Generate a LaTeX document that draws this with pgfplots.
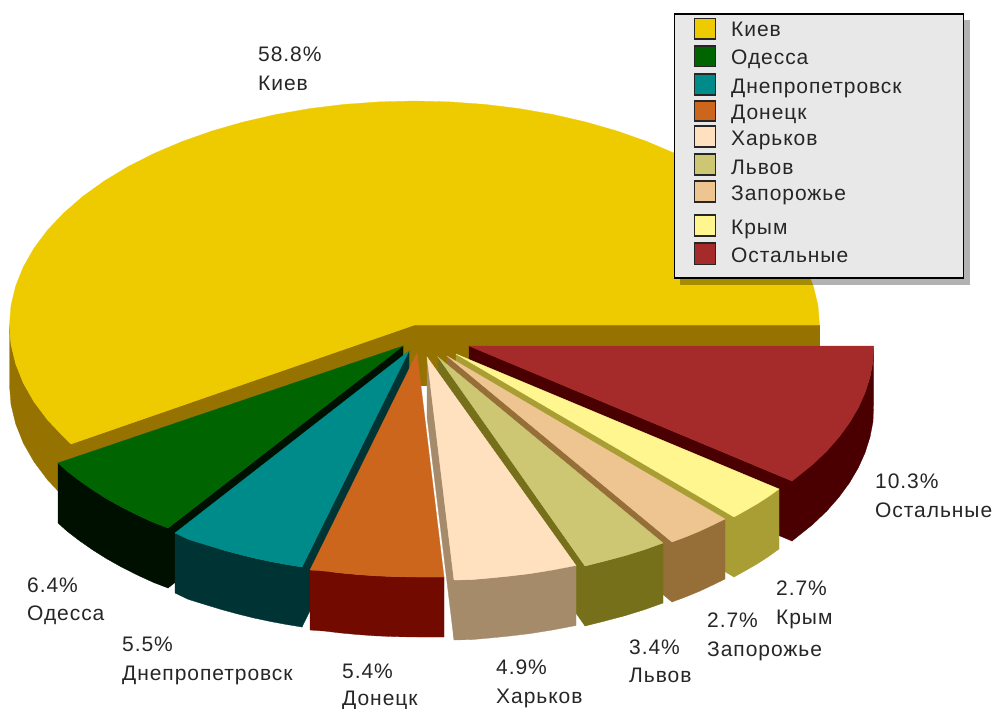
\documentclass[border=0pt]{standalone}
\usepackage{fontspec}
\setmainfont[LetterSpace=4.5]{Liberation Sans}
\usepackage{pgfplots}
\pgfplotsset{compat=1.18}

\definecolor{kievT}{HTML}{EECB00}\definecolor{kievS}{HTML}{967300}
\definecolor{odesT}{HTML}{006400}\definecolor{odesS}{HTML}{001000}
\definecolor{dnepT}{HTML}{008B8B}\definecolor{dnepS}{HTML}{003333}
\definecolor{doneT}{HTML}{CD661D}\definecolor{doneS}{HTML}{730A00}
\definecolor{kharT}{HTML}{FFE1BF}\definecolor{kharS}{HTML}{A68B6B}
\definecolor{lvovT}{HTML}{CDC673}\definecolor{lvovS}{HTML}{757019}
\definecolor{zapoT}{HTML}{EEC591}\definecolor{zapoS}{HTML}{966E38}
\definecolor{krymT}{HTML}{FFF68F}\definecolor{krymS}{HTML}{A89E33}
\definecolor{restT}{HTML}{A52A2A}\definecolor{restS}{HTML}{4A0000}

\newcommand{\poly}[2]{\addplot[fill=#1,draw=#1,line width=0.3pt] coordinates {#2} --cycle;}
\newcommand{\lab}[3]{\node[anchor=base west,inner sep=0pt,text=black!85] at (axis cs:#1,#2) {#3};}
\newcommand{\swatch}[3]{\addplot[fill=#1,draw=black!85,line width=1.3pt] coordinates {(694.5,#2) (715.5,#2) (715.5,#3) (694.5,#3)} --cycle;}

\begin{document}
\begin{tikzpicture}
\begin{axis}[
  width=994pt, height=709pt, scale only axis,
  xmin=0, xmax=994, ymin=0, ymax=709,
  y dir=reverse, hide axis,
  font=\fontsize{21}{25}\selectfont,
]
% keeps the whole frame in the bounding box
\addplot[draw=none] coordinates {(0,0) (994,709)};
% Kiev, sides then top
\poly{kievS}{(414,325) (819.5,325) (819.5,385) (414,385)}
\poly{kievS}{(414,325) (71,444) (71,504) (414,385)}
\poly{kievS}{(9.5,325) (11,344.5) (15.7,363.9) (23.3,383) (33.9,401.6) (47.4,419.7) (63.8,437) (71,444) (71,504) (63.8,497) (47.4,479.7) (33.9,461.6) (23.3,443) (15.7,423.9) (11,404.5) (9.5,385)}
\poly{kievT}{(414.5,325) (819.5,325) (818,305.5) (813.3,286.1) (805.7,267) (795.1,248.4) (781.6,230.3) (765.2,213) (746.3,196.5) (724.7,181) (700.9,166.6) (674.8,153.4) (646.8,141.5) (617,131) (585.7,122) (553,114.5) (519.3,108.6) (484.8,104.4) (449.8,101.9) (414.5,101) (379.2,101.9) (344.2,104.4) (309.7,108.6) (276,114.5) (243.3,122) (212,131) (182.2,141.5) (154.2,153.4) (128.1,166.6) (104.3,181) (82.7,196.5) (63.8,213) (47.4,230.3) (33.9,248.4) (23.3,267) (15.7,286.1) (11,305.5) (9.5,325) (11,344.5) (15.7,363.9) (23.3,383) (33.9,401.6) (47.4,419.7) (63.8,437) (71,444)}
% Odessa
\poly{odesS}{(403,346) (168,528) (168,588) (403,406)}
\poly{odesS}{(58,463) (67.2,471.3) (79.6,480.8) (92.8,490) (106.8,498.8) (121.6,507.1) (137.3,515) (153.6,522.5) (168,528) (168,588) (153.6,582.5) (137.3,575) (121.6,567.1) (106.8,558.8) (92.8,550) (79.6,540.8) (67.2,531.3) (58,523)}
\poly{odesT}{(403,346) (58,463) (67.2,471.3) (79.6,480.8) (92.8,490) (106.8,498.8) (121.6,507.1) (137.3,515) (153.6,522.5) (168,528)}
% Dnepropetrovsk
\poly{dnepS}{(409,351) (302,567) (302,627) (409,411)}
\poly{dnepS}{(175,533) (188.4,539.4) (206.5,545) (222,549.7) (237.8,554) (254,558) (270.5,561.5) (286,564.4) (302,567) (302,627) (286,624.4) (270.5,621.5) (254,618) (237.8,614) (222,609.7) (206.5,605) (188.4,599.4) (175,593)}
\poly{dnepT}{(409,351) (175,533) (188.4,539.4) (206.5,545) (222,549.7) (237.8,554) (254,558) (270.5,561.5) (286,564.4) (302,567)}
% Donetsk
\poly{doneS}{(310,570) (325,571.1) (340,572.9) (357,574.5) (375,575.8) (396,576.7) (417,577) (444,577) (444,637) (417,637) (396,636.7) (375,635.8) (357,634.5) (340,632.9) (325,631.1) (310,630)}
\poly{doneT}{(417,353) (310,570) (325,571.1) (340,572.9) (357,574.5) (375,575.8) (396,576.7) (417,577) (444,577)}
% Rest
\poly{restS}{(469,346) (792,481) (792,541) (469,406)}
\poly{restS}{(873.5,346) (873,361.6) (870,377) (865.1,392.6) (858.3,407.7) (849.6,422.6) (839,437.1) (826.6,451.2) (812.4,464.7) (792,481) (792,541) (812.4,524.7) (826.6,511.2) (839,497.1) (849.6,482.6) (858.3,467.7) (865.1,452.6) (870,437) (873,421.6) (873.5,406)}
\poly{restT}{(469,346) (873.5,346) (873,361.6) (870,377) (865.1,392.6) (858.3,407.7) (849.6,422.6) (839,437.1) (826.6,451.2) (812.4,464.7) (792,481)}
% Crimea
\poly{krymS}{(456,354) (734,517) (734,577) (456,414)}
\poly{krymS}{(734,517) (745,510.9) (757,504) (768,496.9) (779,489) (779,549) (768,556.9) (757,564) (745,570.9) (734,577)}
\poly{krymT}{(456,354) (734,517) (745,510.9) (757,504) (768,496.9) (779,489)}
% Zaporozhye
\poly{zapoS}{(447,356) (672,542) (672,602) (447,416)}
\poly{zapoS}{(672,542) (686,536.8) (700,531) (713,524.9) (725,519) (725,579) (713,584.9) (700,591) (686,596.8) (672,602)}
\poly{zapoT}{(447,356) (672,542) (686,536.8) (700,531) (713,524.9) (725,519)}
% Lvov
\poly{lvovS}{(438,357) (585,566) (585,626) (438,417)}
\poly{lvovS}{(585,566) (605,561) (625,555.7) (645,549.5) (663,543) (663,603) (645,609.5) (625,615.7) (605,621) (585,626)}
\poly{lvovT}{(438,357) (585,566) (605,561) (625,555.7) (645,549.5) (663,543)}
% Kharkov
\poly{kharS}{(427,357) (454,580) (454,640) (427,417)}
\poly{kharS}{(454,580) (472,579.6) (490,578) (510,576) (530,573.6) (553,569.9) (576,565.5) (576,625.5) (553,629.9) (530,633.6) (510,636) (490,638) (472,639.6) (454,640)}
\poly{kharT}{(427,357) (454,580) (472,579.6) (490,578) (510,576) (530,573.6) (553,569.9) (576,565.5)}
% Legend box with shadow
\addplot[fill=black,fill opacity=0.3,draw=none] coordinates {(680,20) (970,20) (970,285) (680,285)} --cycle;
\addplot[fill=black!9,draw=black,line width=1.3pt] coordinates {(674.5,14) (963.5,14) (963.5,278) (674.5,278)} --cycle;
\swatch{kievT}{18.5}{39}
\swatch{odesT}{46}{66.5}
\swatch{dnepT}{74}{95}
\swatch{doneT}{101}{121}
\swatch{kharT}{126}{147}
\swatch{lvovT}{154}{175}
\swatch{zapoT}{181}{202}
\swatch{krymT}{215}{236}
\swatch{restT}{243}{264.5}
\lab{731}{37}{Киев}
\lab{731}{65}{Одесса}
\lab{731}{93}{Днепропетровск}
\lab{731}{119}{Донецк}
\lab{731}{145}{Харьков}
\lab{731}{174}{Львов}
\lab{731}{200}{Запорожье}
\lab{731}{234}{Крым}
\lab{731}{262}{Остальные}
% Slice labels
\lab{258}{62}{58.8\%}
\lab{258}{91}{Киев}
\lab{875}{488}{10.3\%}
\lab{875}{517}{Остальные}
\lab{27}{592}{6.4\%}
\lab{27}{620}{Одесса}
\lab{122}{651}{5.5\%}
\lab{122}{680}{Днепропетровск}
\lab{342}{678}{5.4\%}
\lab{342}{705}{Донецк}
\lab{496}{674}{4.9\%}
\lab{496}{703}{Харьков}
\lab{629}{654}{3.4\%}
\lab{629}{682}{Львов}
\lab{707}{627}{2.7\%}
\lab{707}{656}{Запорожье}
\lab{776}{595}{2.7\%}
\lab{776}{624}{Крым}
\end{axis}
\end{tikzpicture}
\end{document}
